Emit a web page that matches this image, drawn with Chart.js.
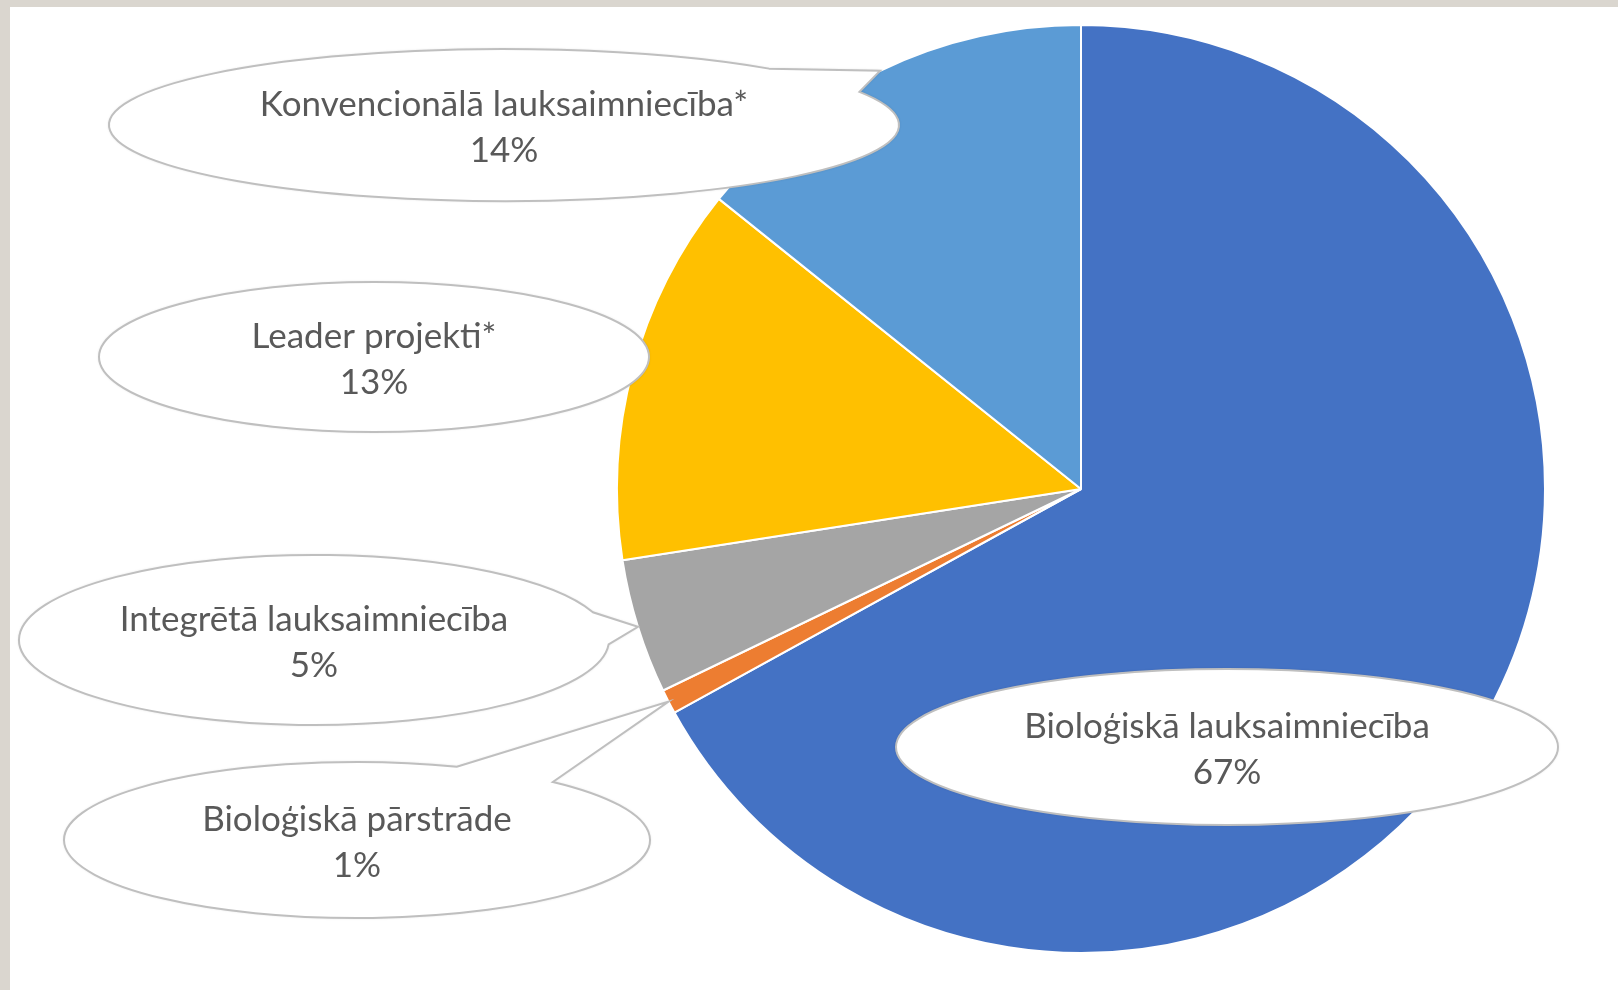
<!DOCTYPE html>
<html>
<head>
<meta charset="utf-8">
<script src="https://cdn.jsdelivr.net/npm/chart.js@4.4.0/dist/chart.umd.min.js"></script>
<style>
  html, body { margin: 0; padding: 0; background: #dad6cf; }
  canvas { display: block; }
</style>
</head>
<body>
<canvas id="pieChart" width="1618" height="990"></canvas>
<script>
// data, clockwise from 12 o'clock
const categories = ["Bioloģiskā lauksaimniecība", "Bioloģiskā pārstrāde", "Integrētā lauksaimniecība", "Leader projekti*", "Konvencionālā lauksaimniecība*"];
const shares = [67.0, 0.85, 4.7, 13.2, 14.25];
const sliceColors = ["#4472C4", "#ED7D31", "#A5A5A5", "#FFC000", "#5B9BD5"];

// where each callout bubble sits (same order as categories)
const bubbles = [
    { cx: 1227, cy: 747, rx: 331, ry: 78 },
    { cx: 357, cy: 840, rx: 293, ry: 78 },
    { cx: 314, cy: 640, rx: 295, ry: 85 },
    { cx: 374, cy: 357, rx: 275, ry: 75 },
    { cx: 504, cy: 125, rx: 395, ry: 76 }
];

const calloutPlugin = {
    id: 'callouts',
    beforeDraw(chart) {
        let ctx = chart.ctx;
        ctx.save();
        ctx.fillStyle = '#dad6cf';
        ctx.fillRect(0, 0, chart.width, chart.height);
        ctx.fillStyle = '#ffffff';
        ctx.fillRect(10, 7, chart.width - 10, chart.height - 7);
        ctx.restore();
    },
    afterDatasetsDraw(chart) {
        let ctx = chart.ctx;
        let meta = chart.getDatasetMeta(0);
        let total = shares.reduce((a, b) => a + b, 0);
        let d = 11 * Math.PI / 180;

        meta.data.forEach((arc, i) => {
            let p = arc.getProps(['x', 'y', 'startAngle', 'endAngle', 'outerRadius'], true);
            let mid = (p.startAngle + p.endAngle) / 2;
            let tipX = p.x + Math.cos(mid) * p.outerRadius;
            let tipY = p.y + Math.sin(mid) * p.outerRadius;
            let b = bubbles[i];
            let nx = (tipX - b.cx) / b.rx;
            let ny = (tipY - b.cy) / b.ry;

            ctx.save();
            ctx.beginPath();
            if (nx * nx + ny * ny > 1) {
                let t = Math.atan2(ny, nx);
                ctx.ellipse(b.cx, b.cy, b.rx, b.ry, 0, t + d, t - d + 2 * Math.PI);
                ctx.lineTo(tipX, tipY);
                ctx.closePath();
            } else {
                ctx.ellipse(b.cx, b.cy, b.rx, b.ry, 0, 0, 2 * Math.PI);
            }
            ctx.shadowColor = 'rgba(0,0,0,0.18)';
            ctx.shadowBlur = 3;
            ctx.fillStyle = '#ffffff';
            ctx.fill();
            ctx.shadowColor = 'transparent';
            ctx.lineWidth = 2;
            ctx.strokeStyle = '#bfbfbf';
            ctx.stroke();

            ctx.fillStyle = '#595959';
            ctx.font = '35px Lato';
            ctx.textAlign = 'center';
            ctx.textBaseline = 'alphabetic';
            ctx.fillText(categories[i], b.cx, b.cy - 9);
            ctx.fillText(Math.round(shares[i] / total * 100) + '%', b.cx, b.cy + 37);
            ctx.restore();
        });
    }
};

let pieData = {
    labels: categories,
    datasets: [{
        data: shares,
        backgroundColor: sliceColors,
        borderColor: '#ffffff',
        borderWidth: 2
    }]
};

let pieOptions = {
    responsive: false,
    animation: false,
    events: [],
    layout: {
        padding: { top: 24, bottom: 36, left: 614, right: 70 }
    },
    plugins: {
        legend: { display: false },
        tooltip: { enabled: false }
    }
};

let ctx = document.getElementById("pieChart").getContext("2d");
new Chart(ctx, { type: 'pie', data: pieData, options: pieOptions, plugins: [calloutPlugin] });
</script>
</body>
</html>
